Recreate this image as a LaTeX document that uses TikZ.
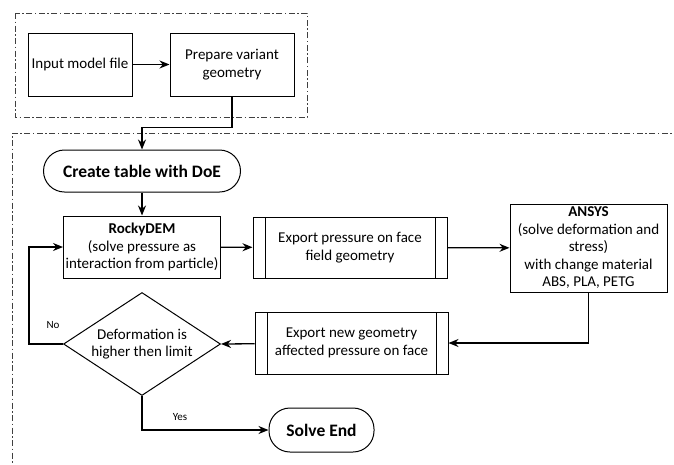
\documentclass[tikz,border=0pt]{standalone}
\usepackage{fontspec}
\setmainfont{Carlito}
\usetikzlibrary{arrows.meta}
\usetikzlibrary{shapes}

\begin{document}
\begin{tikzpicture}[x=1pt, y=-1pt, ->, >={Stealth[length=10pt,width=8pt]}, line width=1.3pt,
    font=\fontsize{15}{17.5}\selectfont,
    box/.style = {draw, rectangle, line width=1pt, align=center, inner sep=2pt},
    proc/.style = {box, path picture={
        \draw[-, line width=1pt] ([xshift=12pt]path picture bounding box.north west) -- ([xshift=12pt]path picture bounding box.south west);
        \draw[-, line width=1pt] ([xshift=-12pt]path picture bounding box.north east) -- ([xshift=-12pt]path picture bounding box.south east);}},
    term/.style = {draw, rectangle, rounded corners=21pt, line width=1pt, align=center},
    decision/.style = {draw, diamond, aspect=1.52, line width=1pt, align=center, inner sep=0pt},
    frame/.style = {-, draw=black!75, line width=0.8pt, dash pattern=on 6pt off 2.5pt on 1.5pt off 2.5pt},
    small/.style = {font=\fontsize{11}{13}\selectfont}]
    \useasboundingbox (0,0) rectangle (674,464);

    % Frames
    \draw[frame] (15,13) rectangle (307,117);
    \draw[frame] (680,133) -- (12,133) -- (12,470);

    % Nodes
    \node[box, minimum width=104pt, minimum height=63pt] (input) at (80,64.5) {Input model file};
    \node[box, minimum width=124pt, minimum height=63pt] (prep) at (232,64.5) {Prepare variant\\geometry};
    \node[term, minimum width=197pt, minimum height=42pt, font=\fontsize{17.5}{20}\selectfont\bfseries] (doe) at (142,171) {Create table with DoE};
    \node[box, minimum width=157pt, minimum height=62pt] (rocky) at (142,247) {\textbf{RockyDEM}\\(solve pressure as\\interaction from particle)};
    \node[proc, minimum width=194pt, minimum height=61pt] (expp) at (350,247.5) {Export pressure on face\\field geometry};
    \node[box, minimum width=157pt, minimum height=88pt] (ansys) at (588.5,248) {\textbf{ANSYS}\\(solve deformation and\\stress)\\with change material\\ABS, PLA, PETG};
    \node[proc, minimum width=193pt, minimum height=62pt] (expn) at (351.5,343) {Export new geometry\\affected pressure on face};
    \node[decision, minimum width=157pt, minimum height=103pt] (limit) at (142,344) {Deformation is\\higher then limit};
    \node[term, minimum width=105pt, minimum height=44pt, font=\fontsize{17.5}{20}\selectfont\bfseries] (finish) at (321.5,430) {Solve End};
    \node[small] (no) at (53,325) {No};
    \node[small] (yes) at (180,417) {Yes};

    % Edges
    \draw (input) -- (prep);
    \draw (prep.south) -- ++(0,31) -| (doe.north);
    \draw (doe) -- (rocky);
    \draw (rocky) -- (expp);
    \draw (expp) -- (ansys);
    \draw (ansys.south) |- (expn.east);
    \draw (expn) -- (limit.east);
    \draw (limit.west) -- ++(-34,0) |- (rocky.west);
    \draw (limit.south) |- (finish.west);
\end{tikzpicture}
\end{document}
